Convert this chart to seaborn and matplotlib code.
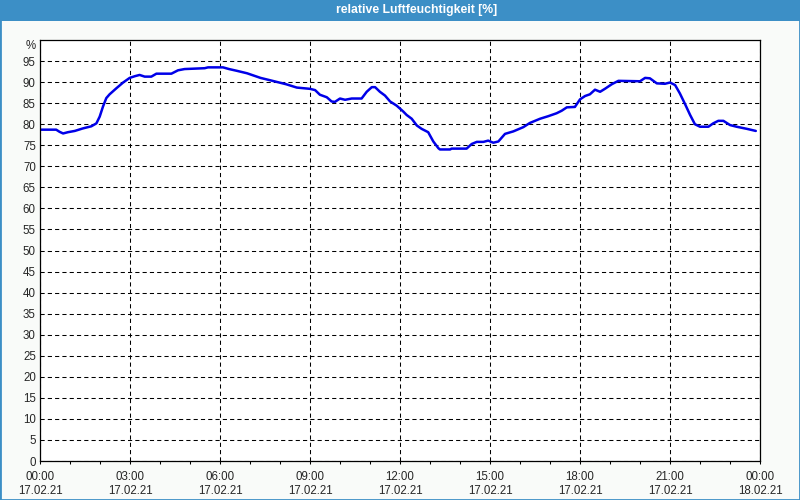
import matplotlib
matplotlib.use("Agg")
import matplotlib.pyplot as plt
from matplotlib.patches import Rectangle
import pandas as pd
import seaborn as sns

# relative humidity, 17.02.21 (hours since midnight)
hours = [0.0, 0.54, 0.65, 0.77, 0.93, 1.16, 1.43, 1.71, 1.88, 1.99, 2.1, 2.21, 2.32, 2.54,
         2.77, 2.99, 3.16, 3.32, 3.49, 3.71, 3.88, 4.38, 4.6, 4.82, 5.49, 5.6, 6.1, 6.3,
         6.55, 6.9, 7.35, 7.75, 8.2, 8.56, 9.0, 9.17, 9.33, 9.56, 9.72, 9.83, 10.0, 10.17,
         10.39, 10.72, 10.89, 11.06, 11.17, 11.33, 11.5, 11.67, 11.89, 12.11, 12.22, 12.39,
         12.56, 12.72, 12.94, 13.11, 13.28, 13.33, 13.67, 13.72, 14.22, 14.39, 14.56, 14.78,
         14.94, 15.11, 15.28, 15.5, 15.78, 16.11, 16.33, 16.67, 16.94, 17.22, 17.39, 17.56,
         17.83, 18.0, 18.17, 18.33, 18.5, 18.67, 18.83, 19.06, 19.28, 20.0, 20.17, 20.33,
         20.56, 20.83, 21.0, 21.17, 21.33, 21.5, 21.67, 21.83, 22.0, 22.28, 22.44, 22.61,
         22.78, 23.0, 23.22, 23.56, 23.86]
humidity = [78.7, 78.7, 78.2, 77.8, 78.1, 78.4, 79.0, 79.5, 80.2, 81.8, 84.2, 86.2, 87.1, 88.5,
            89.9, 91.0, 91.4, 91.7, 91.3, 91.3, 92.0, 92.0, 92.8, 93.1, 93.3, 93.5, 93.5, 93.1,
            92.7, 92.1, 91.0, 90.3, 89.5, 88.7, 88.4, 88.1, 87.0, 86.4, 85.4, 85.3, 86.1, 85.8,
            86.1, 86.1, 87.7, 88.8, 88.8, 87.7, 86.8, 85.4, 84.4, 83.0, 82.2, 81.3,
            79.7, 78.9, 78.1, 75.9, 74.3, 74.0, 74.0, 74.2, 74.2, 75.3, 75.8, 75.8,
            76.1, 75.6, 75.9, 77.7, 78.3, 79.3, 80.3, 81.3, 81.9, 82.6, 83.2, 84.0,
            84.1, 85.9, 86.7, 87.1, 88.2, 87.7, 88.4, 89.5, 90.3, 90.2, 91.0, 90.9,
            89.7, 89.6, 89.9, 89.3, 87.3, 84.8, 82.2, 80.0, 79.4, 79.4, 80.2, 80.8,
            80.8, 79.8, 79.4, 78.9, 78.4]

tick_hours = [0, 3, 6, 9, 12, 15, 18, 21, 24]
tick_times = ["00:00", "03:00", "06:00", "09:00", "12:00", "15:00", "18:00", "21:00", "00:00"]
tick_dates = ["17.02.21"] * 8 + ["18.02.21"]
y_ticks = list(range(0, 100, 5))
title = "relative Luftfeuchtigkeit [%]"

BAR = "#3c8fc6"

sns.set_style("ticks")
plt.rcParams["font.family"] = ["Liberation Sans", "DejaVu Sans"]

fig = plt.figure(figsize=(8, 5), dpi=100, facecolor="#f9fbf9")
ax = fig.add_axes([40 / 800, 39 / 500, 720 / 800, 421 / 500])
ax.set_facecolor("white")

df = pd.DataFrame({"h": hours, "rh": humidity})
sns.lineplot(data=df, x="h", y="rh", ax=ax, color="#0000e8", linewidth=1.8)

ax.set_xlim(0, 24)
ax.set_ylim(0, 100)
ax.set_xticks(tick_hours)
ax.set_xticklabels([t + "\n" + d for t, d in zip(tick_times, tick_dates)])
ax.set_xticks(range(25), minor=True)
ax.set_yticks(y_ticks)
ax.set_xlabel("")
ax.set_ylabel("")

ax.set_axisbelow(True)
ax.grid(True, which="major", color="black", linestyle=(0, (4, 3)), linewidth=0.75)
ax.tick_params(axis="x", which="both", length=2.5, width=0.75, color="black",
               labelsize=8.3, pad=4.5, direction="out")
ax.tick_params(axis="y", length=0, pad=3, labelsize=8.3)
for lab in ax.get_xticklabels():
    lab.set_linespacing(1.3)
for s in ax.spines.values():
    s.set_visible(True)
    s.set_color("black")
    s.set_linewidth(0.9)

ax.annotate("%", xy=(0, 100), xycoords=("axes fraction", "data"), xytext=(-3, -4),
            textcoords="offset points", ha="right", va="center", fontsize=8.3)

# title bar and frame
fig.patches.append(Rectangle((0, 1 - 21 / 500), 1, 21 / 500, transform=fig.transFigure,
                             facecolor=BAR, edgecolor="none", zorder=0))
fig.patches.append(Rectangle((0, 0), 1, 1, transform=fig.transFigure, fill=False,
                             edgecolor=BAR, linewidth=2))
fig.text(417 / 800, 1 - 10.5 / 500, title, color="white", ha="center", va="center",
         fontsize=8.8, fontweight="bold")

fig.savefig("out.png", dpi=100, facecolor=fig.get_facecolor())
